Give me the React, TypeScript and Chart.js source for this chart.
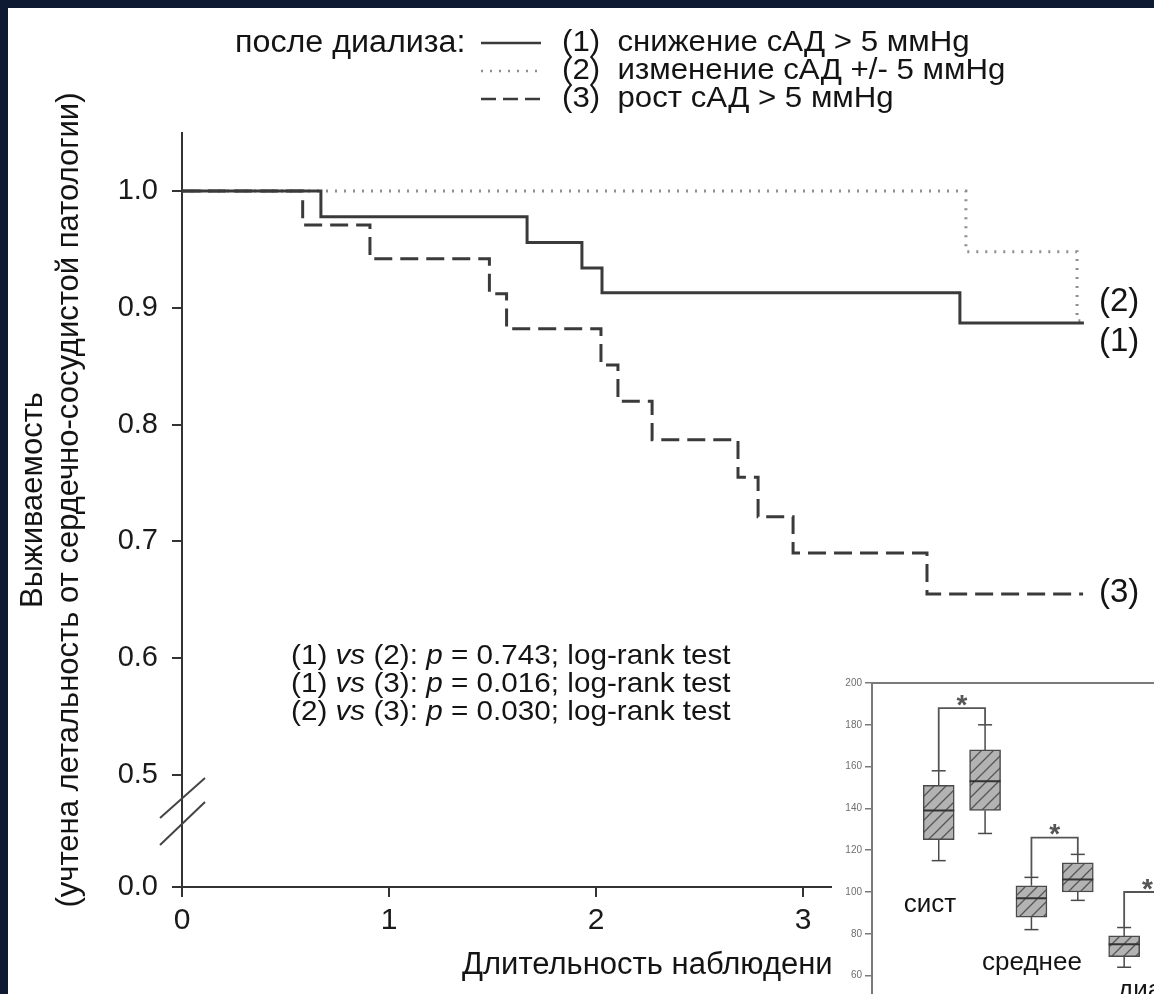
import React, { useEffect, useRef } from 'react';
import { Chart, registerables } from 'chart.js';

Chart.register(...registerables);

// ---------- Main Kaplan–Meier data ----------
const timeSolid = [0, 0.671, 1.667, 1.932, 2.029, 3.758, 4.357];
const survSolid = [1, 0.978, 0.956, 0.934, 0.913, 0.887, 0.887];
const timeDotted = [0, 3.787, 4.324, 4.357];
const survDotted = [1, 0.948, 0.889, 0.889];
const timeDashed = [0, 0.583, 0.908, 1.485, 1.568, 2.024, 2.106, 2.271, 2.686, 2.783, 2.952, 3.599, 4.353];
const survDashed = [1, 0.971, 0.942, 0.912, 0.882, 0.851, 0.82, 0.787, 0.755, 0.721, 0.69, 0.655, 0.655];

const legendTitle = 'после диализа:';
const seriesNames = ['(1)  снижение сАД > 5 ммHg', '(2)  изменение сАД +/- 5 ммHg', '(3)  рост сАД > 5 ммHg'];
const curveLabels = ['(1)', '(2)', '(3)'];
const xTickValues = [0, 1, 2, 3, 4];
const yTickValues = [0.5, 0.6, 0.7, 0.8, 0.9, 1.0];
const yBreakValue = 0.404; // position of the "0.0" tick below the axis break
const yBreakLabel = '0.0';
const yTitleLines = ['Выживаемость', '(учтена летальность от сердечно-сосудистой патологии)'];
const xTitle = 'Длительность наблюдения, годы';
const compareA = ['(1)', '(1)', '(2)'];
const compareB = ['(2)', '(3)', '(3)'];
const pValues = ['0.743', '0.016', '0.030'];
const testName = 'log-rank test';

// ---------- Inset box-plot data ----------
const insetGroups = ['сист', 'среднее', 'диаст'];
const boxMin = [115, 128, 82, 96, 64, 72];
const boxQ1 = [125, 139, 88, 100, 69, 78];
const boxMedian = [139, 153, 97, 106, 75, 84];
const boxQ3 = [151, 168, 103, 114, 79, 90];
const boxMax = [158, 180, 107, 118, 83, 96];
const bracketLevel = [188, 126, 100];

const FONT = '"Liberation Sans", Arial, Helvetica, sans-serif';
const OFF = 8; // page offset of the white panel

function drawText(
  ctx: CanvasRenderingContext2D,
  text: string,
  x: number,
  y: number,
  size: number,
  opts: { align?: string; sx?: number; italic?: boolean; color?: string; bold?: boolean } = {}
) {
  const { align = 'left', sx = 1, italic = false, color = '#141414', bold = false } = opts;
  ctx.save();
  ctx.font = `${italic ? 'italic ' : ''}${bold ? 'bold ' : ''}${size}px ${FONT}`;
  ctx.fillStyle = color;
  ctx.textBaseline = 'middle';
  ctx.textAlign = 'left';
  const w = ctx.measureText(text).width * sx;
  const x0 = align === 'center' ? x - w / 2 : align === 'right' ? x - w : x;
  ctx.translate(x0, y);
  ctx.scale(sx, 1);
  ctx.fillText(text, 0, 0);
  ctx.restore();
  return w;
}

function line(ctx: CanvasRenderingContext2D, x1: number, y1: number, x2: number, y2: number, color: string, width: number, dash: number[] = []) {
  ctx.save();
  ctx.strokeStyle = color;
  ctx.lineWidth = width;
  ctx.setLineDash(dash);
  ctx.beginPath();
  ctx.moveTo(x1, y1);
  ctx.lineTo(x2, y2);
  ctx.stroke();
  ctx.restore();
}

const seriesStyles = [
  { color: '#3a3a3a', dash: [] as number[], width: 3 },
  { color: '#8e8e8e', dash: [2, 7], width: 3 },
  { color: '#3a3a3a', dash: [18, 8], width: 3 },
];

const mainDecor = {
  id: 'mainDecor',
  afterDraw(chart: any) {
    const ctx: CanvasRenderingContext2D = chart.ctx;
    const p = (v: number) => v - OFF;
    // legend
    drawText(ctx, legendTitle, p(235), p(43), 31, { sx: 1.04 });
    const rowsY = [43, 71, 99];
    rowsY.forEach((ry, i) => {
      const st = seriesStyles[i];
      line(ctx, p(481), p(ry), p(541), p(ry), st.color, 2.5, i === 2 ? [15, 7] : st.dash);
      drawText(ctx, seriesNames[i], p(562), p(ry), 30, { sx: 1.04 });
    });
    // curve end labels
    drawText(ctx, curveLabels[1], p(1099), p(302), 33);
    drawText(ctx, curveLabels[0], p(1099), p(342), 33);
    drawText(ctx, curveLabels[2], p(1099), p(593), 33);
    // p-values
    const pRows = [656, 684, 712];
    pRows.forEach((ry, i) => {
      let x = p(291);
      const sx = 1.06;
      const segs: [string, boolean][] = [
        [compareA[i] + ' ', false],
        ['vs', true],
        [' ' + compareB[i] + ': ', false],
        ['p', true],
        [' = ' + pValues[i] + '; ' + testName, false],
      ];
      segs.forEach(([s, it]) => {
        x += drawText(ctx, s, x, p(ry), 28, { sx, italic: it });
      });
    });
    // y title (rotated)
    const yCenters = [33, 69];
    yTitleLines.forEach((t, i) => {
      ctx.save();
      ctx.translate(p(yCenters[i]), p(500));
      ctx.rotate(-Math.PI / 2);
      drawText(ctx, t, 0, 0, 31, { align: 'center' });
      ctx.restore();
    });
    // x title
    drawText(ctx, xTitle, p(462), p(965), 31);
    // axis break marks
    line(ctx, p(160), p(818), p(205), p(778), '#444', 2);
    line(ctx, p(160), p(845), p(205), p(802), '#444', 2);
  },
};

const insetDecor = {
  id: 'insetDecor',
  afterDatasetsDraw(chart: any) {
    const ctx: CanvasRenderingContext2D = chart.ctx;
    const xs = chart.scales.x;
    const ys = chart.scales.y;
    const area = chart.chartArea;
    const col = '#4a4a4a';
    // frame top line
    line(ctx, area.left, area.top, area.right, area.top, '#7a7a7a', 2);
    const half = 15.5;
    const cap = 7;
    for (let i = 0; i < boxQ1.length; i++) {
      const xc = xs.getPixelForValue(i + 1);
      const yMin = ys.getPixelForValue(boxMin[i]);
      const yMax = ys.getPixelForValue(boxMax[i]);
      const yQ1 = ys.getPixelForValue(boxQ1[i]);
      const yQ3 = ys.getPixelForValue(boxQ3[i]);
      const yMed = ys.getPixelForValue(boxMedian[i]);
      line(ctx, xc, yQ3, xc, yMax, col, 1.5);
      line(ctx, xc, yQ1, xc, yMin, col, 1.5);
      line(ctx, xc - cap, yMax, xc + cap, yMax, col, 1.5);
      line(ctx, xc - cap, yMin, xc + cap, yMin, col, 1.5);
      line(ctx, xc - half, yMed, xc + half, yMed, '#333', 2);
    }
    // significance brackets
    bracketLevel.forEach((lvl, k) => {
      const a = 2 * k;
      const b = 2 * k + 1;
      const xa = xs.getPixelForValue(a + 1);
      const xb = xs.getPixelForValue(b + 1);
      const yl = ys.getPixelForValue(lvl);
      ctx.save();
      ctx.strokeStyle = '#555';
      ctx.lineWidth = 1.8;
      ctx.beginPath();
      ctx.moveTo(xa, ys.getPixelForValue(boxMax[a]));
      ctx.lineTo(xa, yl);
      ctx.lineTo(xb, yl);
      ctx.lineTo(xb, ys.getPixelForValue(boxMax[b]));
      ctx.stroke();
      ctx.restore();
      drawText(ctx, '*', (xa + xb) / 2, yl - 2, 28, { align: 'center', color: '#555', bold: true });
    });
    // group labels
    drawText(ctx, insetGroups[0], 98, 233, 26, { align: 'center' });
    drawText(ctx, insetGroups[1], 200, 291, 26, { align: 'center' });
    drawText(ctx, insetGroups[2], 286, 319, 26);
  },
};

function makeHatch(): CanvasPattern | string {
  const c = document.createElement('canvas');
  c.width = 12;
  c.height = 12;
  const g = c.getContext('2d');
  if (!g) return '#b0b0b0';
  g.fillStyle = '#b3b3b3';
  g.fillRect(0, 0, 12, 12);
  g.strokeStyle = '#555';
  g.lineWidth = 1.3;
  g.beginPath();
  g.moveTo(-3, 15); g.lineTo(15, -3);
  g.moveTo(-9, 9); g.lineTo(9, -9);
  g.moveTo(3, 21); g.lineTo(21, 3);
  g.stroke();
  return g.createPattern(c, 'repeat') || '#b0b0b0';
}

export default function App() {
  const mainRef = useRef<HTMLCanvasElement | null>(null);
  const insetRef = useRef<HTMLCanvasElement | null>(null);

  useEffect(() => {
    if (!mainRef.current || !insetRef.current) return;
    const mk = (t: number[], s: number[]) => t.map((x, i) => ({ x, y: s[i] }));
    const ds = (data: any[], st: any) => ({
      data,
      borderColor: st.color,
      borderWidth: st.width,
      borderDash: st.dash,
      pointRadius: 0,
      stepped: 'before' as const,
      fill: false,
      tension: 0,
    });
    const main = new Chart(mainRef.current, {
      type: 'line',
      data: {
        datasets: [
          ds(mk(timeSolid, survSolid), seriesStyles[0]),
          ds(mk(timeDashed, survDashed), seriesStyles[2]),
          ds(mk(timeDotted, survDotted), seriesStyles[1]),
        ],
      },
      options: {
        animation: false,
        responsive: false,
        plugins: { legend: { display: false }, tooltip: { enabled: false }, title: { display: false } },
        layout: { padding: { top: 125, right: 40.5, left: 0, bottom: 0 } },
        scales: {
          x: {
            type: 'linear',
            min: 0,
            max: 4.5,
            afterBuildTicks: (s: any) => { s.ticks = xTickValues.map((v) => ({ value: v })); },
            afterFit: (s: any) => { s.height = 107; },
            grid: { drawOnChartArea: false, drawTicks: true, tickLength: 10, color: '#333', lineWidth: 2 },
            border: { color: '#333', width: 2 },
            ticks: { color: '#1a1a1a', font: { family: FONT, size: 30 }, padding: 6, callback: (v: any) => String(v) },
          },
          y: {
            type: 'linear',
            min: yBreakValue,
            max: 1.0497,
            afterBuildTicks: (s: any) => { s.ticks = [yBreakValue, ...yTickValues].map((v) => ({ value: v })); },
            afterFit: (s: any) => { s.width = 174; },
            grid: { drawOnChartArea: false, drawTicks: true, tickLength: 10, color: '#333', lineWidth: 2 },
            border: { color: '#333', width: 2 },
            ticks: {
              color: '#1a1a1a',
              font: { family: FONT, size: 29 },
              padding: 14,
              callback: (v: any) => (v < 0.45 ? yBreakLabel : Number(v).toFixed(1)),
            },
          },
        },
      },
      plugins: [mainDecor],
    });

    const inset = new Chart(insetRef.current, {
      type: 'bar',
      data: {
        datasets: [
          {
            data: boxQ1.map((q, i) => ({ x: i + 1, y: [q, boxQ3[i]] })) as any,
            backgroundColor: makeHatch() as any,
            borderColor: '#4a4a4a',
            borderWidth: 1.5,
            borderSkipped: false,
            barThickness: 31,
          },
        ],
      },
      options: {
        animation: false,
        responsive: false,
        plugins: { legend: { display: false }, tooltip: { enabled: false } },
        layout: { padding: { top: 11, right: 0, bottom: 14.6, left: 0 } },
        scales: {
          x: { type: 'linear', min: 0.1, max: 7.65, display: false },
          y: {
            min: 40,
            max: 200,
            afterFit: (s: any) => { s.width = 40; },
            ticks: { stepSize: 20, color: '#6e6e6e', font: { family: FONT, size: 10 }, padding: 3 },
            grid: { drawOnChartArea: false, drawTicks: true, tickLength: 7, color: '#7a7a7a', lineWidth: 1.5 },
            border: { color: '#7a7a7a', width: 2 },
          },
        },
      },
      plugins: [insetDecor],
    });

    return () => {
      main.destroy();
      inset.destroy();
    };
  }, []);

  return (
    <div style={{ position: 'fixed', left: 0, top: 0, width: 1154, height: 994, overflow: 'hidden', background: '#0e1a32' }}>
      <div style={{ position: 'absolute', left: OFF, top: OFF, width: 1146, height: 986, background: '#fff' }}>
        <canvas ref={mainRef} width={1146} height={986} style={{ position: 'absolute', left: 0, top: 0, width: 1146, height: 986 }} />
      </div>
      <canvas ref={insetRef} width={440} height={360} style={{ position: 'absolute', left: 832, top: 672, width: 440, height: 360, background: '#fff' }} />
    </div>
  );
}
